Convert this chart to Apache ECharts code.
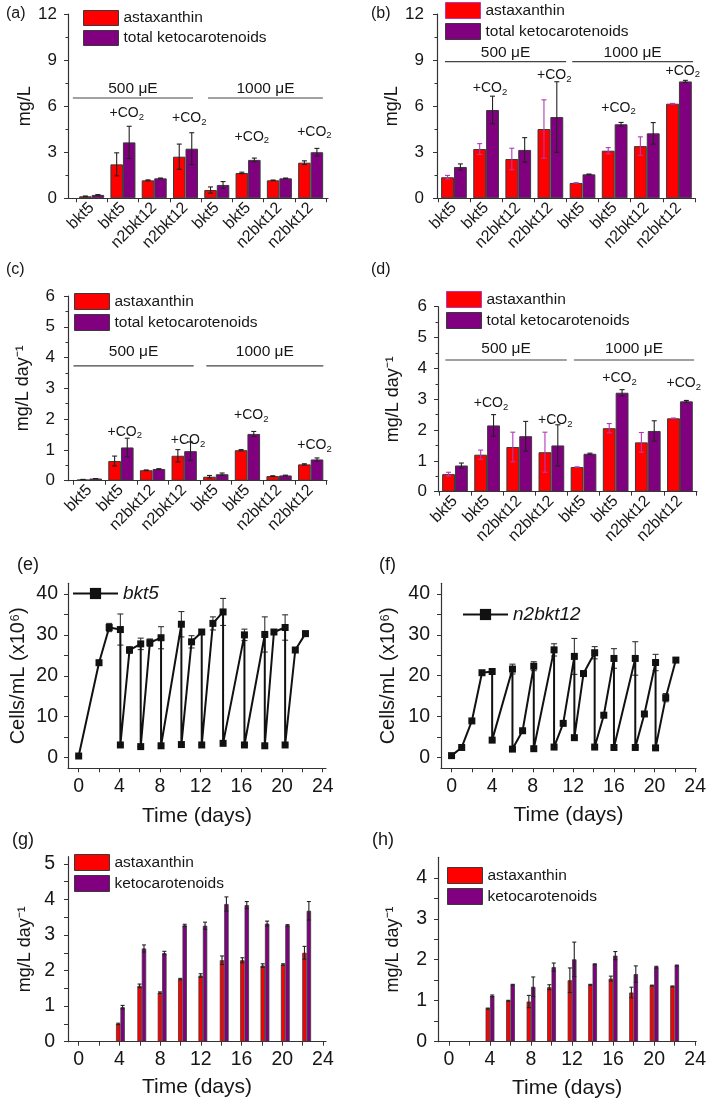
<!DOCTYPE html>
<html><head><meta charset="utf-8">
<script src="https://cdn.jsdelivr.net/npm/echarts@6/dist/echarts.min.js"></script>
<style>html,body{margin:0;padding:0;background:#fff}#c{width:709px;height:1103px}</style>
</head><body><div id="c"></div>
<script>
// ================= DATA =================
const groupCats = ['bkt5','bkt5','n2bkt12','n2bkt12','bkt5','bkt5','n2bkt12','n2bkt12'];
const lightLabels = ['500 μE','1000 μE'];
const lightSpans = [[0,3],[4,7]];
const co2Groups = [1,3,5,7];

// (a) mg/L
const aAsta    = [0.13, 2.21, 1.17, 2.71, 0.54, 1.65, 1.17, 2.32];
const aAstaErr = [0.02, 0.75, 0.03, 0.82, 0.20, 0.05, 0.02, 0.12];
const aKeto    = [0.22, 3.64, 1.30, 3.23, 0.87, 2.50, 1.30, 3.00];
const aKetoErr = [0.02, 1.05, 0.02, 1.04, 0.22, 0.12, 0.02, 0.25];
const aLightLevel = 6.53;
const aCO2Level = [5.53, 5.20, 4.00, 4.34];

// (b) mg/L
const bAsta    = [1.37, 3.21, 2.56, 4.51, 1.00, 3.10, 3.40, 6.16];
const bAstaErr = [0.12, 0.35, 0.70, 1.90, 0.01, 0.20, 0.60, 0.02];
const bKeto    = [2.04, 5.75, 3.15, 5.29, 1.56, 4.82, 4.23, 7.61];
const bKetoErr = [0.20, 0.90, 0.80, 2.30, 0.02, 0.12, 0.70, 0.07];
const bLightLevel = 8.9;
const bCO2Level = [7.16, 8.03, 5.90, 8.31];

// (c) mg/L day-1
const cAsta    = [0.04, 0.64, 0.34, 0.81, 0.13, 0.99, 0.15, 0.53];
const cAstaErr = [0.00, 0.16, 0.01, 0.20, 0.04, 0.02, 0.01, 0.02];
const cKeto    = [0.07, 1.08, 0.38, 0.96, 0.21, 1.52, 0.17, 0.69];
const cKetoErr = [0.00, 0.30, 0.01, 0.30, 0.04, 0.08, 0.01, 0.05];
const cLightLevel = 3.73;
const cCO2Level = [1.59, 1.32, 2.13, 1.16];

// (d) mg/L day-1
const dAsta    = [0.57, 1.20, 1.45, 1.28, 0.80, 2.06, 1.60, 2.38];
const dAstaErr = [0.06, 0.15, 0.48, 0.65, 0.00, 0.15, 0.32, 0.01];
const dKeto    = [0.85, 2.15, 1.80, 1.50, 1.23, 3.21, 1.97, 2.93];
const dKetoErr = [0.08, 0.35, 0.48, 0.67, 0.02, 0.10, 0.33, 0.03];
const dLightLevel = 4.27;
const dCO2Level = [2.86, 2.32, 3.68, 3.51];

// (e) bkt5 cells
const eDays  = [0,2,3,4.1,4.1,5,6.1,6.1,7,8.1,8.1,10.1,10.1,11.1,12.1,12.1,13.2,14.2,14.2,16.3,16.3,18.3,18.3,19.2,20.3,20.3,21.3,22.3];
const eCells = [0.4,23.2,31.8,31.3,3.1,26.3,27.8,2.7,28.1,29.3,2.9,32.6,3.2,28.3,30.7,3.1,32.8,35.6,3.5,30.0,3.1,30.1,2.9,30.7,31.8,3.1,26.3,30.3];
const eErr   = [0,0.5,1.0,3.8,0,0.8,1.4,0,0.9,2.7,0,3.1,0,1.5,0.5,0,1.6,3.3,0,1.4,0,4.3,0,0.4,3.1,0,0.5,0.6];

// (f) n2bkt12 cells
const fDays  = [0,1,2,3,4,4,6,6,7,8.1,8.1,10.1,10.1,11,12.1,12.1,13,14.1,14.1,15,16,16,18.1,18.1,19,20.1,20.1,21.1,22.1];
const fCells = [0.4,2.4,8.9,20.7,21.0,4.2,21.6,2.0,6.5,22.3,2.1,26.3,2.5,8.3,24.7,4.8,20.5,25.6,2.5,10.3,24.2,2.4,24.2,2.4,10.6,23.2,2.3,14.6,23.8];
const fErr   = [0,0,0,0,0.3,0,1.2,0,0.3,1.1,0,1.5,0,0.3,4.4,0,0.4,1.5,0,0.3,2.4,0,4.1,0,0.3,2.0,0,1.0,0.3];

// (g) bkt5 productivity
const gDays    = [4.1,6.2,8.2,10.2,12.2,14.3,16.3,18.3,20.3,22.4];
const gAsta    = [0.50,1.57,1.38,1.76,1.86,2.29,2.29,2.14,2.17,2.50];
const gAstaErr = [0.02,0.05,0.02,0.02,0.05,0.12,0.07,0.05,0.02,0.18];
const gKeto    = [0.97,2.62,2.49,3.27,3.26,3.87,3.84,3.32,3.27,3.68];
const gKetoErr = [0.05,0.10,0.05,0.03,0.10,0.20,0.10,0.07,0.02,0.26];

// (h) n2bkt12 productivity
const hDays    = [4,6,8,10,12,14,16,18,20,22];
const hAsta    = [0.81,1.00,0.98,1.33,1.50,1.39,1.54,1.20,1.37,1.35];
const hAstaErr = [0.01,0.01,0.15,0.06,0.30,0.01,0.06,0.13,0.01,0.01];
const hKeto    = [1.12,1.39,1.34,1.82,2.01,1.89,2.10,1.65,1.82,1.86];
const hKetoErr = [0.02,0.01,0.24,0.10,0.42,0.01,0.10,0.20,0.02,0.01];

// tick labels
const dayLabels  = [0,4,8,12,16,20,24];
const dayTicks   = [0,2,4,6,8,10,12,14,16,18,20,22,24];
const cellLabels = [0,10,20,30,40];
const cellTicks  = [0,5,10,15,20,25,30,35,40];
const gLabels = [0,1,2,3,4,5];
const gTicks  = [0,0.5,1,1.5,2,2.5,3,3.5,4,4.5,5];
const hLabels = [0,1,2,3,4];
const hTicks  = [0,0.5,1,1.5,2,2.5,3,3.5,4];

// ================= STYLE / BUILD =================
const F = "'Liberation Sans', Arial, Helvetica, sans-serif";
const INK = '#161616', AX = '#333333';
const RED = '#ff0000', PUR = '#800080', EDGE = '#3a3a3a', MAG = '#b23ab2';
const opt = {backgroundColor:'#fff', animation:false, textStyle:{fontFamily:F},
  grid:[], xAxis:[], yAxis:[], series:[], legend:[], graphic:[]};
const addGrid = g => (opt.grid.push(g), opt.grid.length-1);
const addX = a => (opt.xAxis.push(a), opt.xAxis.length-1);
const addY = a => (opt.yAxis.push(a), opt.yAxis.length-1);
const axLine = {show:true, onZero:false, lineStyle:{color:AX, width:1.2}};

function errRender(offsetFn, color, capW){
  return (params, api) => {
    const c = api.coord([api.value(0), api.value(1)]);
    const x = c[0] + offsetFn(api);
    const top = api.coord([api.value(0), api.value(1)+api.value(2)])[1];
    const bot = api.coord([api.value(0), api.value(1)-api.value(2)])[1];
    const hw = capW/2, st = {stroke:color, lineWidth:1.1};
    return {type:'group', children:[
      {type:'line', shape:{x1:x,y1:top,x2:x,y2:bot}, style:st},
      {type:'line', shape:{x1:x-hw,y1:top,x2:x+hw,y2:top}, style:st},
      {type:'line', shape:{x1:x-hw,y1:bot,x2:x+hw,y2:bot}, style:st}]};
  };
}

function panelLabel(text, left, top, size){
  opt.graphic.push({type:'text', left, top, style:{text, fontSize:size, fill:INK, fontFamily:F}});
}

function barPanel(p){
  const fg = addGrid({left:p.frame[0], top:p.frame[1], width:p.frame[2], height:p.frame[3]});
  addX({gridIndex:fg, type:'value', min:0, max:1, axisLine:axLine, axisTick:{show:false}, axisLabel:{show:false}, splitLine:{show:false}});
  addY({gridIndex:fg, type:'value', min:0, max:p.ymax, interval:p.yint,
    name:p.yName, nameLocation:'middle', nameGap:p.nameGap,
    nameTextStyle:{fontSize:p.nameSize, color:INK, fontFamily:F},
    axisLine:axLine, axisTick:{show:true, length:4, lineStyle:{color:AX}},
    minorTick:{show:true, splitNumber:2, length:2.5, lineStyle:{color:AX}},
    axisLabel:{fontSize:17, color:INK, margin:p.labelMargin, fontFamily:F}, splitLine:{show:false}});
  const dg = addGrid({left:p.dataLeft, top:p.frame[1], width:p.dataWidth, height:p.frame[3]});
  const xi = addX({gridIndex:dg, type:'category', data:groupCats,
    axisLine:{show:true, onZero:false, lineStyle:{color:AX, opacity:0}},
    axisTick:{show:true, length:4, lineStyle:{color:AX, opacity:1, width:1}},
    axisLabel:{interval:0, rotate:45, fontSize:16, color:INK, margin:7, fontFamily:F}});
  const yi = addY({gridIndex:dg, type:'value', min:0, max:p.ymax, show:false});
  const gap = '20%';
  opt.series.push({name:'astaxanthin', type:'bar', xAxisIndex:xi, yAxisIndex:yi, data:p.asta, barGap:'0%', barCategoryGap:gap,
    itemStyle:{color:RED, borderColor:EDGE, borderWidth:1}});
  opt.series.push({name:'total ketocarotenoids', type:'bar', xAxisIndex:xi, yAxisIndex:yi, data:p.keto, barGap:'0%', barCategoryGap:gap,
    itemStyle:{color:PUR, borderColor:EDGE, borderWidth:1}});
  const off = f => api => f*api.size([1,0])[0];
  opt.series.push({type:'custom', xAxisIndex:xi, yAxisIndex:yi, z:5, silent:true, encode:{x:0,y:1},
    data:p.asta.map((v,i)=>[i,v,p.astaErr[i]]), renderItem:errRender(off(-0.2), p.astaErrColor, 5)});
  opt.series.push({type:'custom', xAxisIndex:xi, yAxisIndex:yi, z:5, silent:true, encode:{x:0,y:1},
    data:p.keto.map((v,i)=>[i,v,p.ketoErr[i]]), renderItem:errRender(off(0.2), '#222', 5)});
  // light-intensity brackets
  opt.series.push({type:'custom', xAxisIndex:xi, yAxisIndex:yi, z:5, silent:true, encode:{x:0,y:2},
    data:lightSpans.map((s,k)=>[s[0], s[1], p.light, k]),
    renderItem:(params, api)=>{
      const band = api.size([1,0])[0];
      const s = api.coord([api.value(0), api.value(2)]);
      const e = api.coord([api.value(1), api.value(2)]);
      const x1 = s[0]-p.lineL[api.value(3)]*band, x2 = e[0]+p.lineR[api.value(3)]*band;
      return {type:'group', children:[
        {type:'line', shape:{x1, y1:s[1], x2, y2:s[1]}, style:{stroke:'#444', lineWidth:1.1}},
        {type:'text', style:{text:lightLabels[api.value(3)], x:(x1+x2)/2, y:s[1]-p.textGap, align:'center', verticalAlign:'middle',
          fontSize:15.5, fontFamily:F, fill:INK}}]};
    }});
  // +CO2 labels
  opt.series.push({type:'custom', xAxisIndex:xi, yAxisIndex:yi, z:5, silent:true, encode:{x:0,y:1},
    data:co2Groups.map((g,k)=>[g, p.co2[k]]),
    renderItem:(params, api)=>{
      const band = api.size([1,0])[0];
      const c = api.coord([api.value(0), api.value(1)]);
      return {type:'text', style:{text:'{t|+CO}{s|2}', x:c[0]+0.12*band, y:c[1], align:'center', verticalAlign:'middle', fill:INK,
        rich:{t:{fontSize:14, fontFamily:F, fill:INK}, s:{fontSize:9.5, fontFamily:F, fill:INK, padding:[8,0,0,0]}}}};
    }});
  opt.legend.push({left:p.legend[0], top:p.legend[1], padding:0, orient:'vertical', icon:'rect', itemWidth:35, itemHeight:p.legend[2], itemGap:4,
    selectedMode:false, textStyle:{fontSize:15.5, color:INK, fontFamily:F, lineHeight:p.legend[2]},
    itemStyle:{borderColor:EDGE, borderWidth:1},
    data:[{name:'astaxanthin', itemStyle:{borderColor:p.legendRedBorder}}, {name:'total ketocarotenoids'}]});
}

function timeAxes(p, yLabels, yTicks, yName, nameSize, ymin, ymax){
  const g = addGrid({left:p.grid[0], top:p.grid[1], width:p.grid[2], height:p.grid[3]});
  const xi = addX({gridIndex:g, type:'value', min:p.xmin, max:p.xmax, name:'Time (days)', nameLocation:'middle', nameGap:p.xNameGap,
    nameTextStyle:{fontSize:21, color:INK, fontFamily:F, verticalAlign:'top'},
    axisLine:axLine, axisTick:{show:true, customValues:dayTicks, length:4, lineStyle:{color:AX}},
    axisLabel:{customValues:dayLabels, fontSize:19.5, color:INK, margin:8, fontFamily:F}, splitLine:{show:false}});
  const yi = addY({gridIndex:g, type:'value', min:ymin, max:ymax, name:yName, nameLocation:'middle', nameGap:p.yNameGap,
    nameTextStyle:{fontSize:nameSize, color:INK, fontFamily:F},
    axisLine:axLine, axisTick:{show:true, customValues:yTicks, length:4, lineStyle:{color:AX}},
    axisLabel:{customValues:yLabels, fontSize:19.5, color:INK, margin:p.labelMargin, fontFamily:F}, splitLine:{show:false}});
  return [xi, yi];
}

function cellPanel(p){
  const [xi, yi] = timeAxes(p, cellLabels, cellTicks, 'Cells/mL (x10⁶)', 20, p.ymin, p.ymax);
  opt.series.push({name:p.name, type:'line', xAxisIndex:xi, yAxisIndex:yi, data:p.days.map((d,i)=>[d,p.cells[i]]),
    symbol:'rect', symbolSize:7, itemStyle:{color:'#111'}, lineStyle:{color:'#111', width:2}, z:3});
  opt.series.push({type:'custom', xAxisIndex:xi, yAxisIndex:yi, z:2, silent:true, encode:{x:0,y:1},
    data:p.days.map((d,i)=>[d,p.cells[i],p.err[i]]), renderItem:errRender(()=>0, '#333', 6)});
  opt.legend.push({left:p.legend[0], top:p.legend[1], padding:0, itemWidth:45, itemHeight:14, selectedMode:false,
    textStyle:{fontSize:19, fontStyle:'italic', color:INK, fontFamily:F}, data:[p.name]});
}

function prodPanel(p){
  const [xi, yi] = timeAxes(p, p.yLabels, p.yTicks, 'mg/L day⁻¹', 18, 0, p.ymax);
  const bw = 4.4;
  opt.series.push({name:'astaxanthin', type:'bar', xAxisIndex:xi, yAxisIndex:yi, data:p.days.map((d,i)=>[d,p.asta[i]]),
    barWidth:bw, barGap:'0%', itemStyle:{color:RED, borderColor:EDGE, borderWidth:0.8}});
  opt.series.push({name:'ketocarotenoids', type:'bar', xAxisIndex:xi, yAxisIndex:yi, data:p.days.map((d,i)=>[d,p.keto[i]]),
    barWidth:bw, barGap:'0%', itemStyle:{color:PUR, borderColor:EDGE, borderWidth:0.8}});
  opt.series.push({type:'custom', xAxisIndex:xi, yAxisIndex:yi, z:5, silent:true, encode:{x:0,y:1},
    data:p.days.map((d,i)=>[d,p.asta[i],p.astaErr[i]]), renderItem:errRender(()=>-bw/2, '#222', 4)});
  opt.series.push({type:'custom', xAxisIndex:xi, yAxisIndex:yi, z:5, silent:true, encode:{x:0,y:1},
    data:p.days.map((d,i)=>[d,p.keto[i],p.ketoErr[i]]), renderItem:errRender(()=>bw/2, '#222', 4)});
  opt.legend.push({left:p.legend[0], top:p.legend[1], padding:0, orient:'vertical', icon:'rect', itemWidth:35, itemHeight:16, itemGap:4,
    selectedMode:false, textStyle:{fontSize:15.5, color:INK, fontFamily:F, lineHeight:16},
    itemStyle:{borderColor:EDGE, borderWidth:1}, data:['astaxanthin','ketocarotenoids']});
}

// ---- panels ----
barPanel({frame:[68,14,260,184.3], dataLeft:76, dataWidth:250.3, ymax:12, yint:3, yName:'mg/L', nameSize:18, nameGap:33, labelMargin:11,
  asta:aAsta, astaErr:aAstaErr, keto:aKeto, ketoErr:aKetoErr, astaErrColor:'#222', light:aLightLevel, co2:aCO2Level,
  lineL:[0.6,0.28], lineR:[0.24,0.39], textGap:9, legend:[83,10,15], legendRedBorder:EDGE});
barPanel({frame:[437,14,258,184.3], dataLeft:437.9, dataWidth:257.1, ymax:12, yint:3, yName:'mg/L', nameSize:18, nameGap:35, labelMargin:13,
  asta:bAsta, astaErr:bAstaErr, keto:bKeto, ketoErr:bKetoErr, astaErrColor:MAG, light:bLightLevel, co2:bCO2Level,
  lineL:[0.28,0.32], lineR:[0.49,0.44], textGap:9, legend:[445,2,16], legendRedBorder:MAG});
barPanel({frame:[68,296,259,184.7], dataLeft:73.5, dataWidth:253, ymax:6, yint:1, yName:'mg/L day⁻¹', nameSize:18, nameGap:36, labelMargin:13,
  asta:cAsta, astaErr:cAstaErr, keto:cKeto, ketoErr:cKetoErr, astaErrColor:'#222', light:cLightLevel, co2:cCO2Level,
  lineL:[0.5,0.3], lineR:[0.3,0.4], textGap:14, legend:[74,293,16], legendRedBorder:EDGE});
barPanel({frame:[438,306.7,259,185], dataLeft:438.9, dataWidth:257.1, ymax:6, yint:1, yName:'mg/L day⁻¹', nameSize:18, nameGap:36, labelMargin:11,
  asta:dAsta, astaErr:dAstaErr, keto:dKeto, ketoErr:dKetoErr, astaErrColor:MAG, light:dLightLevel, co2:dCO2Level,
  lineL:[0.3,0.3], lineR:[0.48,0.44], textGap:11, legend:[446,291,16], legendRedBorder:MAG});

cellPanel({grid:[68,583.3,258,185], xmin:-1.05, xmax:24.32, ymin:-2.6, ymax:42.6, xNameGap:37, yNameGap:40, labelMargin:10,
  name:'bkt5', days:eDays, cells:eCells, err:eErr, legend:[72,584]});
cellPanel({grid:[441,583.3,258.3,185], xmin:-1.04, xmax:24.1, ymin:-2.7, ymax:42.6, xNameGap:36, yNameGap:43, labelMargin:11,
  name:'n2bkt12', days:fDays, cells:fCells, err:fErr, legend:[462,605]});
prodPanel({grid:[68,856.7,258,185], xmin:-1.05, xmax:24.3, ymax:5.2, yLabels:gLabels, yTicks:gTicks, xNameGap:35, yNameGap:34, labelMargin:13,
  days:gDays, asta:gAsta, astaErr:gAstaErr, keto:gKeto, ketoErr:gKetoErr, legend:[74,854]});
prodPanel({grid:[438,857.3,258.7,184.4], xmin:-1.07, xmax:24.1, ymax:4.5, yLabels:hLabels, yTicks:hTicks, xNameGap:36, yNameGap:36, labelMargin:11,
  days:hDays, asta:hAsta, astaErr:hAstaErr, keto:hKeto, ketoErr:hKetoErr, legend:[447,867]});

panelLabel('(a)', 6, 6, 16);
panelLabel('(b)', 371, 6, 16);
panelLabel('(c)', 6, 262, 16);
panelLabel('(d)', 371, 262, 16);
panelLabel('(e)', 17, 556, 18);
panelLabel('(f)', 379, 556, 18);
panelLabel('(g)', 12, 831, 18);
panelLabel('(h)', 372, 831, 18);

const chart = echarts.init(document.getElementById('c'), null, {renderer:'canvas'});
chart.setOption(opt);
</script>
</body></html>
